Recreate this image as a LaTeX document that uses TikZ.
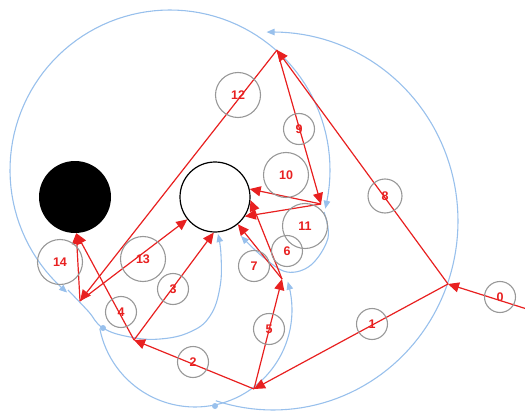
\documentclass[tikz,border=0pt]{standalone}
\usepackage{fontspec}
\setsansfont{Liberation Sans}
\usetikzlibrary{arrows.meta}
\definecolor{pathred}{RGB}{232,32,32}
\definecolor{arcblue}{RGB}{152,192,236}
\definecolor{ringgray}{RGB}{152,152,152}
\tikzset{rt/.tip={Triangle[length=11pt,width=10pt]}, bt/.tip={Triangle[length=8pt,width=6.5pt]}}

\begin{document}
\begin{tikzpicture}[x=1pt, y=-1pt, every node/.style={font=\sffamily\bfseries\fontsize{12.5}{14}\selectfont},
	seg/.style={pathred, line width=1.2pt, -rt},
	arcb/.style={arcblue, line width=1.1pt},
	lbl/.style={circle, draw=ringgray, line width=1.1pt, inner sep=0pt, minimum size=31pt, text=pathred},
	lblw/.style={lbl, minimum size=45pt}]
	\useasboundingbox (0,0) rectangle (525,412);
	% obstacles
	\node[circle, fill=black, inner sep=0pt, minimum size=72pt] (blk) at (75,197) {};
	\node[circle, draw=black, line width=1.2pt, inner sep=0pt, minimum size=70pt] (wht) at (215,197) {};
	% swept arcs
	\draw[arcb, bt-bt] plot[domain=130:374, samples=90, variable=\t] ({170+160*cos(\t)}, {170+160*sin(\t)});
	\draw[arcb, bt-] plot[domain=-92:108, samples=90, variable=\t] ({273+185*cos(\t)}, {221+189*sin(\t)});
	\draw[arcb, bt-] plot[domain=-17:169, samples=60, variable=\t] ({195+97*cos(\t)}, {310+97*sin(\t)});
	\draw[arcb, -bt] plot[smooth, tension=0.7] coordinates {(68,290) (88,311) (103,328) (130,337) (160,339) (190,332) (210,316) (220,287) (221,255) (218,234)};
	\draw[arcb, -bt] plot[smooth, tension=0.6] coordinates {(324,212) (328,238) (311,265) (287,272) (263,257) (241,236)};
	\fill[arcblue] (103,328) circle (3pt);
	\fill[arcblue] (215,406) circle (3pt);
	% path vertices
	\coordinate (s0) at (530,310);
	\coordinate (pA) at (448,284);
	\coordinate (pB) at (254,389);
	\coordinate (pC) at (134,340);
	\coordinate (pD) at (282,279);
	\coordinate (pE) at (321,204);
	\coordinate (pT) at (277,50);
	\coordinate (pF) at (80,301);
	\draw[seg] (s0) -- (pA);
	\draw[seg] (pA) -- (pB);
	\draw[seg] (pB) -- (pC);
	\draw[seg] (pC) -- (wht.268);
	\draw[seg] (pC) -- (blk.272);
	\draw[seg] (pB) -- (pD);
	\draw[seg] (pD) -- (wht.-5);
	\draw[seg] (pD) -- (wht.-50);
	\draw[seg] (pA) -- (pT);
	\draw[seg] (pT) -- (pE);
	\draw[seg] (pE) -- (wht.13);
	\draw[seg] (pE) -- (wht.-33);
	\draw[seg] (pT) -- (pF);
	\draw[seg] (pF) -- (wht.219);
	\draw[seg] (pF) -- (blk.272);
	% step numbers
	\node[lbl] (n0) at (500,297) {0};
	\node[lbl] (n1) at (372,324) {1};
	\node[lbl] (n2) at (193,362) {2};
	\node[lbl] (n3) at (173,289) {3};
	\node[lbl] (n4) at (121,312) {4};
	\node[lbl] (n5) at (269,329) {5};
	\node[lbl] (n6) at (287,251) {6};
	\node[lbl] (n7) at (254,266) {7};
	\node[lbl, minimum size=34pt] (n8) at (385,196) {8};
	\node[lbl] (n9) at (299,129) {9};
	\node[lblw] (n10) at (286,175) {10};
	\node[lblw] (n11) at (305,226) {11};
	\node[lblw] (n12) at (238,95) {12};
	\node[lblw] (n13) at (143,259) {13};
	\node[lblw] (n14) at (60,262) {14};
\end{tikzpicture}
\end{document}
